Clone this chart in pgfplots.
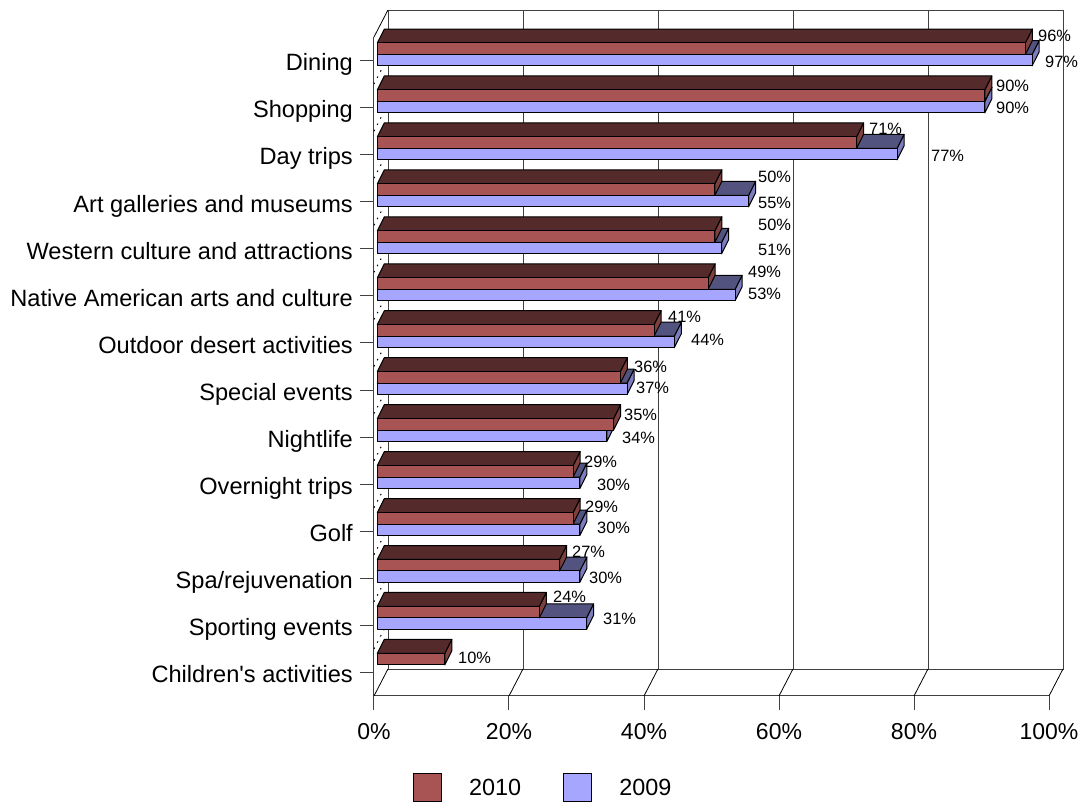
\documentclass[border=0pt]{standalone}
\usepackage{fontspec}
\setmainfont{Liberation Sans}[Ligatures=TeXOff]
\usepackage{pgfplots}
\pgfplotsset{compat=1.18}
\usepackage{pgfplotstable}

\definecolor{front2010}{HTML}{A85454}
\definecolor{top2010}{HTML}{542A2A}
\definecolor{side2010}{HTML}{7E3F3F}
\definecolor{front2009}{HTML}{A6A6FF}
\definecolor{top2009}{HTML}{535380}
\definecolor{side2009}{HTML}{7C7CBF}
\definecolor{wall}{HTML}{404040}

% Value labels: value, and position of the label on the page
\pgfplotstableread{
lab px py
96 1038 35
97 1045 61
90 996 85
90 996 107
71 869 128
77 931 155
50 758 176
55 758 202
50 758 224
51 758 249
49 748 271
53 748 293
41 668 316
44 691 339
36 634 366
37 636 387
35 624 414
34 622 437
29 584 461
30 597 484
29 585 506
30 597 527
27 572 551
30 589 577
24 553 596
31 603 618
10 458 657
}\valuelabels

% One bar with its three visible faces: row, value, top and bottom offset, series
\newcommand\barthree[5]{%
  \pgfmathsetmacro\xa{0.49}%
  \pgfmathsetmacro\xb{0.49+#2}%
  \pgfmathsetmacro\ya{-(0.9975*#1+#3)}%
  \pgfmathsetmacro\yb{-(0.9975*#1+#4)}%
  \pgfmathsetmacro\xc{\xa+1.04}%
  \pgfmathsetmacro\xd{\xb+1.04}%
  \pgfmathsetmacro\yc{\ya+0.297}%
  \pgfmathsetmacro\yd{\yb+0.297}%
  \addplot[fill=side#5,draw=black,line width=1pt,line join=round]
    coordinates {(\xb,\ya) (\xd,\yc) (\xd,\yd) (\xb,\yb)} --cycle;
  \addplot[fill=top#5,draw=black,line width=1pt,line join=round]
    coordinates {(\xa,\ya) (\xc,\yc) (\xd,\yc) (\xb,\ya)} --cycle;
  \addplot[fill=front#5,draw=black,line width=1pt,line join=round]
    coordinates {(\xa,\ya) (\xb,\ya) (\xb,\yb) (\xa,\yb)} --cycle;
}
% Both series of a category; 2009 lies under 2010
\newcommand\category[3]{%
  \barthree{#1}{#3}{-0.128}{0.116}{2009}%
  \barthree{#1}{#2}{-0.3725}{-0.128}{2010}%
}

\begin{document}
\begin{tikzpicture}[x=1pt,y=1pt]
\useasboundingbox (0,0) rectangle (1080,802);
\begin{axis}[
  at={(374pt,106pt)},anchor=south west,
  scale only axis,width=675pt,height=659pt,
  xmin=0,xmax=100,ymin=-13.5,ymax=0.5,
  clip=false,
  axis x line*=bottom,axis y line*=left,
  axis line style={-,line width=1pt,draw=wall},
  every tick/.style={line width=1pt,draw=wall},
  tick align=outside,major tick length=14pt,
  xtick={0,20,...,100},
  xticklabels={0\%,20\%,40\%,60\%,80\%,100\%},
  ytick={-13,-12,...,0},
  yticklabels={Children's activities,Sporting events,Spa/rejuvenation,Golf,
    Overnight trips,Nightlife,Special events,Outdoor desert activities,
    Native American arts and culture,Western culture and attractions,
    Art galleries and museums,Day trips,Shopping,Dining},
  x tick label style={font=\fontsize{23}{26}\selectfont,inner sep=0pt,anchor=base,yshift=-30pt},
  y tick label style={font=\fontsize{23.6}{26}\selectfont,inner sep=0pt,anchor=base east,xshift=-7pt,yshift=-10.3pt},
  every axis plot/.append style={forget plot},
  legend style={at={(0.0578,-0.1395)},anchor=west,draw=none,fill=none,inner sep=0pt,
    font=\fontsize{23.4}{26}\selectfont,legend columns=2,
    /tikz/column 1/.style={column sep=25pt},
    /tikz/column 2/.style={column sep=40pt},
    /tikz/column 3/.style={column sep=25pt}},
]
% Back wall and floor
\addplot[wall,line width=0.9pt] coordinates {(2.07,1.074) (102.07,1.074) (102.07,-12.926) (2.07,-12.926) (2.07,1.074)};
\addplot[wall,line width=0.9pt] coordinates {(22.07,1.074) (22.07,-12.926)};
\addplot[wall,line width=0.9pt] coordinates {(42.07,1.074) (42.07,-12.926)};
\addplot[wall,line width=0.9pt] coordinates {(62.07,1.074) (62.07,-12.926)};
\addplot[wall,line width=0.9pt] coordinates {(82.07,1.074) (82.07,-12.926)};
% Slanted edges of the floor and side wall
\addplot[black,line width=0.8pt] coordinates {(0,0.5) (2.07,1.074)};
\addplot[black,line width=0.8pt] coordinates {(0,-13.5) (2.07,-12.926)};
\addplot[black,line width=0.8pt] coordinates {(20,-13.5) (22.07,-12.926)};
\addplot[black,line width=0.8pt] coordinates {(40,-13.5) (42.07,-12.926)};
\addplot[black,line width=0.8pt] coordinates {(60,-13.5) (62.07,-12.926)};
\addplot[black,line width=0.8pt] coordinates {(80,-13.5) (82.07,-12.926)};
\addplot[black,line width=0.8pt] coordinates {(100,-13.5) (102.07,-12.926)};
% Sparse dotted row dividers on the side wall
\pgfplotsinvokeforeach{0,-1,...,-12}{
  \addplot[black,line width=1pt,dash pattern=on 1.5pt off 5.5pt] coordinates {(0,#1-0.5) (2.07,#1+0.074)};
}
% Bars: row, 2010, 2009
\category{0}{96}{97}
\category{1}{90}{90}
\category{2}{71}{77}
\category{3}{50}{55}
\category{4}{50}{51}
\category{5}{49}{53}
\category{6}{41}{44}
\category{7}{36}{37}
\category{8}{35}{34}
\category{9}{29}{30}
\category{10}{29}{30}
\category{11}{27}{30}
\category{12}{24}{31}
\barthree{13}{10}{-0.3725}{-0.128}{2010}
% Value labels
\addplot[draw=none,mark=none,point meta=explicit symbolic,
  nodes near coords={\pgfplotspointmeta\%},
  every node near coord/.style={anchor=west,inner sep=0pt,font=\fontsize{16.4}{18}\selectfont}]
  table[x expr=(\thisrow{px}-374)/6.75,y expr=-((\thisrow{py}+0.7-37)/47.07-0.5),meta=lab]{\valuelabels};
\addlegendimage{legend image code/.code={\draw[fill=front2010,draw=black,line width=1pt] (0pt,-14pt) rectangle (28pt,14pt);}}
\addlegendentry{2010}
\addlegendimage{legend image code/.code={\draw[fill=front2009,draw=black,line width=1pt] (0pt,-14pt) rectangle (28pt,14pt);}}
\addlegendentry{2009}
\end{axis}
\end{tikzpicture}
\end{document}
